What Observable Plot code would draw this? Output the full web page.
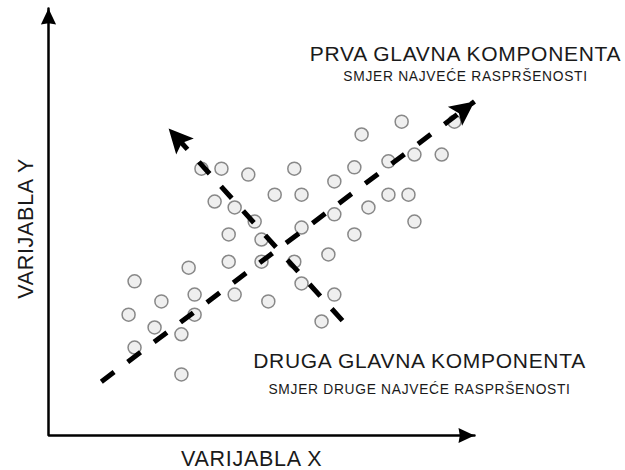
<!DOCTYPE html>
<html>
<head>
<meta charset="utf-8">
<script src="https://cdn.jsdelivr.net/npm/d3@7"></script>
<script src="https://cdn.jsdelivr.net/npm/@observablehq/plot@0.6"></script>
<style>
  html, body { margin: 0; padding: 0; background: #fff; }
  #chart { width: 625px; height: 470px; }
  #chart svg text { letter-spacing: 0.7px; }
</style>
</head>
<body>
<div id="chart"></div>
<script>
// Scatter points (abstract units, same scale on both axes)
const pointX = [3.59, 4.06, 4.69, 5.77, 6.71, 3.90, 4.37, 5.31, 5.94, 4.84, 6.71, 4.23, 5.00, 5.94, 6.57,
                3.29, 4.23, 5.00, 5.77, 2.02, 3.43, 4.37, 2.65, 5.16, 5.94, 6.71, 1.88, 3.43, 2.49, 3.12,
                6.41, 2.02, 3.12, 8.29, 9.53, 7.35, 7.18, 7.98, 8.59, 9.23, 7.98, 8.45, 7.51, 8.59, 7.18];
const pointY = [6.25, 6.25, 6.11, 6.25, 5.95, 5.48, 5.34, 5.64, 5.64, 5.01, 5.18, 4.71, 4.59, 4.87, 4.24,
                3.93, 4.07, 4.07, 4.07, 3.61, 3.30, 3.30, 3.14, 3.14, 3.56, 3.30, 2.83, 2.83, 2.53, 2.37,
                2.67, 2.06, 1.43, 7.35, 7.35, 7.05, 6.28, 6.42, 6.58, 6.58, 5.64, 5.64, 5.34, 5.01, 4.71];

// Principal component arrows: start and tip
const arrowNames = ["PC1", "PC2"];
const arrowX1 = [1.24, 6.90];
const arrowY1 = [1.26, 2.69];
const arrowX2 = [10.0, 2.82];
const arrowY2 = [7.82, 7.19];

// Axis frame (y tip, origin, x tip)
const axisX = [0, 0, 10];
const axisY = [10, 0, 0];

// Text labels
const titleText = ["PRVA GLAVNA KOMPONENTA", "DRUGA GLAVNA KOMPONENTA"];
const titleX = [9.79, 8.71];
const titleY = [8.78, 1.57];
const subText = ["SMJER NAJVEĆE RASPRŠENOSTI", "SMJER DRUGE NAJVEĆE RASPRŠENOSTI"];
const subX = [9.79, 8.71];
const subY = [8.31, 0.98];
const xLabel = "VARIJABLA X";
const yLabel = "VARIJABLA Y";

const points = pointX.map((x, i) => ({x, y: pointY[i]}));
const arrows = arrowNames.map((name, i) => ({
  name, x1: arrowX1[i], y1: arrowY1[i], x2: arrowX2[i], y2: arrowY2[i],
  angle: Math.atan2(arrowX2[i] - arrowX1[i], arrowY2[i] - arrowY1[i]) * 180 / Math.PI
}));
const arrowLines = arrows.flatMap(a => [{name: a.name, x: a.x1, y: a.y1}, {name: a.name, x: a.x2, y: a.y2}]);
const axisPath = axisX.map((x, i) => ({x, y: axisY[i]}));
const axisHeads = [{x: 0, y: 10, angle: 0}, {x: 10, y: 0, angle: 90}];
const titles = titleText.map((t, i) => ({t, x: titleX[i], y: titleY[i]}));
const subs = subText.map((t, i) => ({t, x: subX[i], y: subY[i]}));

// arrowhead symbol: tip at origin pointing up
function headSymbol(lenF, widF, notch) {
  return {
    draw(ctx, size) {
      const r = Math.sqrt(size / Math.PI);
      const L = lenF * r, W = widF * r;
      ctx.moveTo(0, 0);
      ctx.lineTo(W, L);
      ctx.lineTo(0, L * (1 - notch));
      ctx.lineTo(-W, L);
      ctx.closePath();
    }
  };
}

const font = "Liberation Sans, Arial, Helvetica, sans-serif";

const chart = Plot.plot({
  width: 625,
  height: 470,
  margin: 0,
  x: {domain: [0, 10], range: [48, 474], axis: null},
  y: {domain: [0, 10], range: [435, 8], axis: null},
  style: {background: "#fff", fontFamily: font},
  marks: [
    Plot.line(axisPath, {x: "x", y: "y", stroke: "#000", strokeWidth: 2.5, strokeLinejoin: "miter"}),
    Plot.dot(axisHeads, {x: "x", y: "y", rotate: "angle", r: 8, symbol: headSymbol(2, 0.95, 0.08), fill: "#000", stroke: "none"}),
    Plot.dot(points, {x: "x", y: "y", r: 6.5, fill: "#efefef", stroke: "#888", strokeWidth: 1.5}),
    Plot.line(arrowLines, {x: "x", y: "y", z: "name", stroke: "#000", strokeWidth: 5, strokeDasharray: "16,17", strokeLinecap: "butt"}),
    Plot.dot(arrows, {x: "x2", y: "y2", rotate: "angle", r: 12.5, symbol: headSymbol(1.95, 0.95, 0.2), fill: "#000", stroke: "none"}),
    Plot.text(titles, {x: "x", y: "y", text: "t", fontSize: 21, lineAnchor: "bottom", textAnchor: "middle", fill: "#1a1a1a"}),
    Plot.text(subs, {x: "x", y: "y", text: "t", fontSize: 13.8, lineAnchor: "bottom", textAnchor: "middle", fill: "#1a1a1a"}),
    Plot.text([xLabel], {x: () => 4.77, y: () => -0.72, text: d => d, fontSize: 21.5, lineAnchor: "bottom", textAnchor: "middle", fill: "#1a1a1a"}),
    Plot.text([yLabel], {x: () => -0.52, y: () => 4.85, text: d => d, fontSize: 21.5, rotate: -90, lineAnchor: "middle", textAnchor: "middle", fill: "#1a1a1a"})
  ]
});
document.getElementById("chart").appendChild(chart);
</script>
</body>
</html>
